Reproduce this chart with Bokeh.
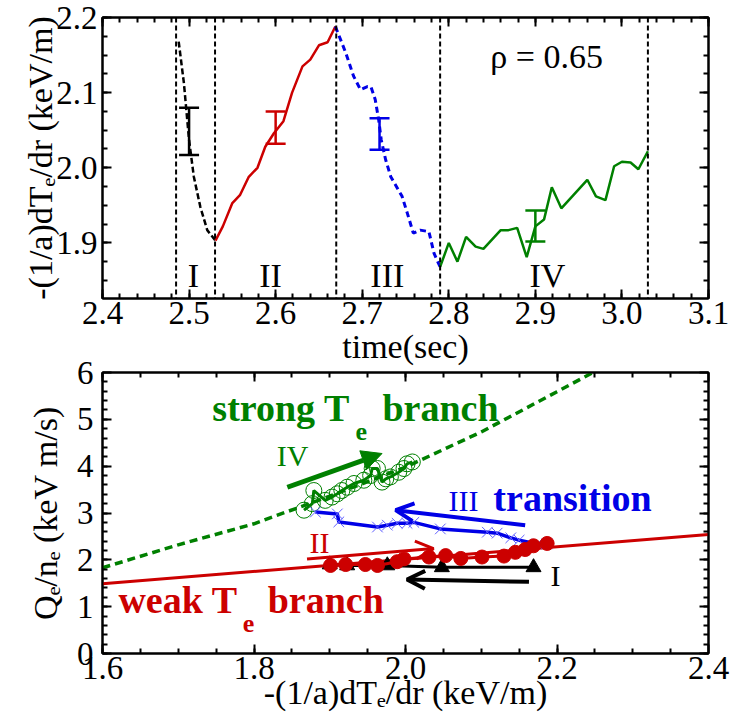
import numpy as np
from bokeh.plotting import figure
from bokeh.models import (ColumnDataSource, Range1d, LinearAxis, FixedTicker, Span, Whisker,
                          TeeHead, Arrow, OpenHead, NormalHead, PrintfTickFormatter)
from bokeh.layouts import column
from bokeh.embed import file_html
from bokeh.resources import INLINE
from bokeh.core.properties import value

SERIF = "Liberation Serif"
RED = "#cc0000"
GREEN = "#008000"
BLUE = "#0000e6"
BLACK = "#000000"

# ---------------- time traces of the gradient at rho = 0.65 ----------------
t_I = [2.488, 2.494, 2.500, 2.5055, 2.513, 2.521, 2.5305]
g_I = [2.168, 2.113, 2.037, 1.988, 1.948, 1.917, 1.903]

t_II = [2.5305, 2.539, 2.550, 2.559, 2.569, 2.579, 2.588, 2.598, 2.609, 2.619,
        2.631, 2.640, 2.650, 2.660, 2.669]
g_II = [1.903, 1.922, 1.953, 1.964, 1.988, 2.000, 2.028, 2.046, 2.062, 2.100,
        2.135, 2.144, 2.163, 2.167, 2.188]

t_III = [2.669, 2.681, 2.690, 2.698, 2.706, 2.710, 2.715, 2.719, 2.722, 2.727,
         2.733, 2.746, 2.752, 2.759, 2.767, 2.777, 2.783, 2.790]
g_III = [2.188, 2.153, 2.122, 2.104, 2.108, 2.108, 2.091, 2.064, 2.037, 2.011,
         1.988, 1.962, 1.940, 1.913, 1.917, 1.915, 1.886, 1.868]

t_IV = [2.790, 2.800, 2.810, 2.820, 2.831, 2.840, 2.860, 2.869, 2.879, 2.890, 2.900,
        2.910, 2.919, 2.930, 2.960, 2.970, 2.981, 2.991, 3.000, 3.010, 3.019, 3.030]
g_IV = [1.868, 1.900, 1.875, 1.908, 1.895, 1.892, 1.917, 1.917, 1.920, 1.881, 1.922,
        1.931, 1.974, 1.946, 1.984, 1.962, 1.957, 2.002, 2.008, 2.007, 1.998, 2.022]

# phase boundaries (sec)
phase_edges = [2.485, 2.53, 2.67, 2.79, 3.03]

# error bars: one per phase
err_t = [2.50, 2.60, 2.72, 2.90]
err_lo = [2.017, 2.032, 2.024, 1.902]
err_hi = [2.080, 2.075, 2.066, 1.943]
err_col = [BLACK, RED, BLUE, GREEN]

phase_names = ["I", "II", "III", "IV"]
phase_name_t = [2.505, 2.594, 2.729, 2.914]
phase_name_g = [1.856, 1.856, 1.856, 1.856]

# ---------------- flux vs gradient ----------------
weak_x = [1.60, 2.40]
weak_q = [1.49, 2.54]

strong_x = [1.60, 1.70, 1.80, 1.90, 2.00, 2.10, 2.20, 2.25]
strong_q = [1.83, 2.32, 2.77, 3.36, 3.98, 4.73, 5.59, 6.02]

# phase I (black triangles)
I_x = [2.169, 2.048, 1.976, 1.923, 1.900]
I_q = [1.84, 1.84, 1.88, 1.88, 1.90]

# phase II (red filled circles)
II_x = [1.901, 1.921, 1.947, 1.963, 1.989, 1.998, 2.031, 2.053, 2.073, 2.101,
        2.130, 2.145, 2.158, 2.169, 2.187]
II_q = [1.88, 1.90, 1.90, 1.88, 1.96, 2.02, 2.06, 2.09, 2.03, 2.06,
        2.08, 2.16, 2.22, 2.30, 2.35]

# phase III (blue crosses)
III_x = [2.187, 2.174, 2.150, 2.139, 2.121, 2.108, 2.046, 2.011, 2.002, 1.989,
         1.976, 1.963, 1.912, 1.910, 1.881]
III_q = [2.34, 2.34, 2.42, 2.47, 2.57, 2.59, 2.66, 2.80, 2.78, 2.78,
         2.74, 2.70, 2.81, 2.98, 3.02]

# phase IV (green open circles)
IV_x = [1.866, 1.877, 1.879, 1.894, 1.903, 1.910, 1.916, 1.923, 1.932, 1.945,
        1.954, 1.956, 1.963, 1.969, 1.974, 1.980, 1.991, 1.998, 2.002, 2.009]
IV_q = [3.06, 3.20, 3.48, 3.27, 3.34, 3.41, 3.48, 3.55, 3.63, 3.70,
        3.80, 3.95, 3.95, 3.66, 3.73, 3.77, 3.87, 3.95, 4.05, 4.09]

# direction arrows: (x_start, q_start, x_end, q_end)
arrow_I = (2.163, 1.53, 2.002, 1.58)
arrow_II = (1.870, 2.02, 2.037, 2.24)
arrow_III = (2.158, 2.74, 1.987, 3.06)
arrow_IV = (1.844, 3.55, 1.969, 4.27)

# in-panel annotations of the flux plot
branch_words = ["strong T", "branch", "weak T", "branch"]
branch_x = [1.745, 1.9696, 1.621, 1.818]
branch_q = [5.25, 5.25, 1.15, 1.15]
branch_col = [GREEN, GREEN, RED, RED]
sub_x = [1.934, 1.785]
sub_q = [4.74, 0.64]
sub_col = [GREEN, RED]
tag_x = [2.198, 1.8865, 2.0766, 1.851]
tag_q = [1.67, 2.37, 3.27, 4.23]
tag_col = [BLACK, RED, BLUE, GREEN]


def dress(p, xticks, xminor, yticks, yminor, xfmt, yfmt, xstand, ystand):
    p.xgrid.visible = False
    p.ygrid.visible = False
    p.outline_line_color = "black"
    p.outline_line_width = 2
    p.background_fill_color = "white"
    p.add_layout(LinearAxis(), "above")
    p.add_layout(LinearAxis(), "right")
    for ax in p.xaxis:
        ax.ticker = FixedTicker(ticks=xticks, minor_ticks=xminor)
        ax.formatter = PrintfTickFormatter(format=xfmt)
    for ax in p.yaxis:
        ax.ticker = FixedTicker(ticks=yticks, minor_ticks=yminor)
        ax.formatter = PrintfTickFormatter(format=yfmt)
    for ax in p.axis:
        ax.axis_line_width = 2
        ax.axis_line_color = "black"
        ax.major_tick_line_width = 2
        ax.minor_tick_line_width = 2
        ax.major_tick_in = 9
        ax.major_tick_out = 0
        ax.minor_tick_in = 5
        ax.minor_tick_out = 0
        ax.major_label_text_font = SERIF
        ax.major_label_text_font_size = "33px"
        ax.major_label_text_color = "black"
        ax.axis_label_text_font = SERIF
        ax.axis_label_text_font_size = "34px"
        ax.axis_label_text_font_style = "normal"
        ax.axis_label_text_color = "black"
    for ax in p.above + p.right:
        ax.major_label_text_font_size = "0px"
        ax.major_label_text_color = None
        ax.major_label_standoff = 0
    p.below[0].major_label_standoff = xstand
    p.left[0].major_label_standoff = ystand


# ======================= upper panel =======================
top = figure(width=735, height=379, x_range=Range1d(2.4, 3.1), y_range=Range1d(1.826, 2.2),
             output_backend="svg", toolbar_location=None, title=None,
             min_border_left=102, min_border_right=27, min_border_top=17, min_border_bottom=81)
dress(top, list(np.round(np.arange(2.4, 3.11, 0.1), 2)), list(np.round(np.arange(2.4, 3.1, 0.02), 3)),
      [1.9, 2.0, 2.1, 2.2], list(np.round(np.arange(1.825, 2.2, 0.025), 3)),
      "%.1f", "%.1f", 3, 5)
top.border_fill_color = "white"
top.below[0].axis_label = "time(sec)"
top.below[0].axis_label_standoff = 1
top.left[0].axis_label = "-(1/a)dTₑ/dr (keV/m)"
top.left[0].axis_label_standoff = -6

for edge in phase_edges:
    top.add_layout(Span(location=edge, dimension="height", line_color="black",
                        line_width=2, line_dash="5 3"))

top.line(t_I, g_I, line_color=BLACK, line_width=2.5, line_dash="6 3")
top.line(t_II, g_II, line_color=RED, line_width=2.5)
top.line(t_III, g_III, line_color=BLUE, line_width=3, line_dash="6 4")
top.line(t_IV, g_IV, line_color=GREEN, line_width=2.5)

for t, lo, hi, c in zip(err_t, err_lo, err_hi, err_col):
    src = ColumnDataSource(dict(base=[t], lower=[lo], upper=[hi]))
    top.add_layout(Whisker(source=src, base="base", lower="lower", upper="upper",
                           dimension="height", line_color=c, line_width=2.5,
                           upper_head=TeeHead(size=20, line_color=c, line_width=2.5),
                           lower_head=TeeHead(size=20, line_color=c, line_width=2.5)))

top.text(x=phase_name_t, y=phase_name_g, text=phase_names, text_font=value(SERIF),
         text_font_size=value("34px"), text_align=value("center"),
         text_baseline=value("middle"), text_color="black")
top.text(x=[2.913], y=[2.148], text=["ρ = 0.65"], text_font=value(SERIF),
         text_font_size=value("34px"), text_align=value("center"),
         text_baseline=value("middle"), text_color="black")

# ======================= lower panel =======================
bot = figure(width=735, height=388, x_range=Range1d(1.6, 2.4), y_range=Range1d(0, 6),
             output_backend="svg", toolbar_location=None, title=None,
             min_border_left=102, min_border_right=27, min_border_top=32, min_border_bottom=75)
dress(bot, [1.6, 1.8, 2.0, 2.2, 2.4], list(np.round(np.arange(1.6, 2.4, 0.05), 3)),
      [0, 1, 2, 3, 4, 5, 6], list(np.round(np.arange(0, 6, 0.2), 2)),
      "%.1f", "%d", 3, 9)
bot.border_fill_color = None
bot.margin = (-39, 0, 0, 0)
bot.below[0].axis_label = "-(1/a)dTₑ/dr (keV/m)"
bot.below[0].axis_label_standoff = -8
bot.left[0].axis_label = "Qₑ/nₑ (keV m/s)"
bot.left[0].axis_label_standoff = 10

bot.line(weak_x, weak_q, line_color=RED, line_width=3)
bot.line(strong_x, strong_q, line_color=GREEN, line_width=3.5, line_dash="8 5")

bot.line(IV_x, IV_q, line_color=GREEN, line_width=3)
bot.scatter(IV_x, IV_q, marker="circle", size=16, fill_color=None, line_color=GREEN, line_width=1)

bot.line(III_x, III_q, line_color=BLUE, line_width=3.5)
bot.scatter(III_x, III_q, marker="x", size=15, line_color="#6060ff", line_width=1)

bot.line(I_x, I_q, line_color=BLACK, line_width=3)
bot.scatter(I_x, I_q, marker="triangle", size=15, fill_color=BLACK, line_color=BLACK)

bot.line(II_x, II_q, line_color=RED, line_width=3)
bot.scatter(II_x, II_q, marker="circle", size=14, fill_color=RED, line_color=RED)

for (x0, y0, x1, y1), c, w, head in [
        (arrow_I, BLACK, 4, OpenHead(size=18, line_color=BLACK, line_width=4)),
        (arrow_II, RED, 3, OpenHead(size=18, line_color=RED, line_width=3)),
        (arrow_III, BLUE, 4, OpenHead(size=18, line_color=BLUE, line_width=4)),
        (arrow_IV, GREEN, 5, NormalHead(size=20, line_color=GREEN, fill_color=GREEN))]:
    bot.add_layout(Arrow(x_start=x0, y_start=y0, x_end=x1, y_end=y1,
                         line_color=c, line_width=w, end=head))

bot.text(x=branch_x, y=branch_q, text=branch_words, text_font=value(SERIF),
         text_font_size=value("38px"), text_font_style=value("bold"), text_color=branch_col,
         text_align=value("left"), text_baseline=value("middle"))
bot.text(x=sub_x, y=sub_q, text=["e", "e"], text_font=value(SERIF), text_font_size=value("26px"),
         text_font_style=value("bold"), text_color=sub_col, text_align=value("left"),
         text_baseline=value("middle"))
bot.text(x=[2.116], y=[3.31], text=["transition"], text_font=value(SERIF),
         text_font_size=value("38px"), text_font_style=value("bold"), text_color=BLUE,
         text_align=value("left"), text_baseline=value("middle"))
bot.text(x=tag_x, y=tag_q, text=phase_names, text_font=value(SERIF), text_font_size=value("30px"),
         text_color=tag_col, text_align=value("center"), text_baseline=value("middle"))

layout = column(top, bot, spacing=0)
open("out.html", "w").write(file_html(layout, INLINE))
